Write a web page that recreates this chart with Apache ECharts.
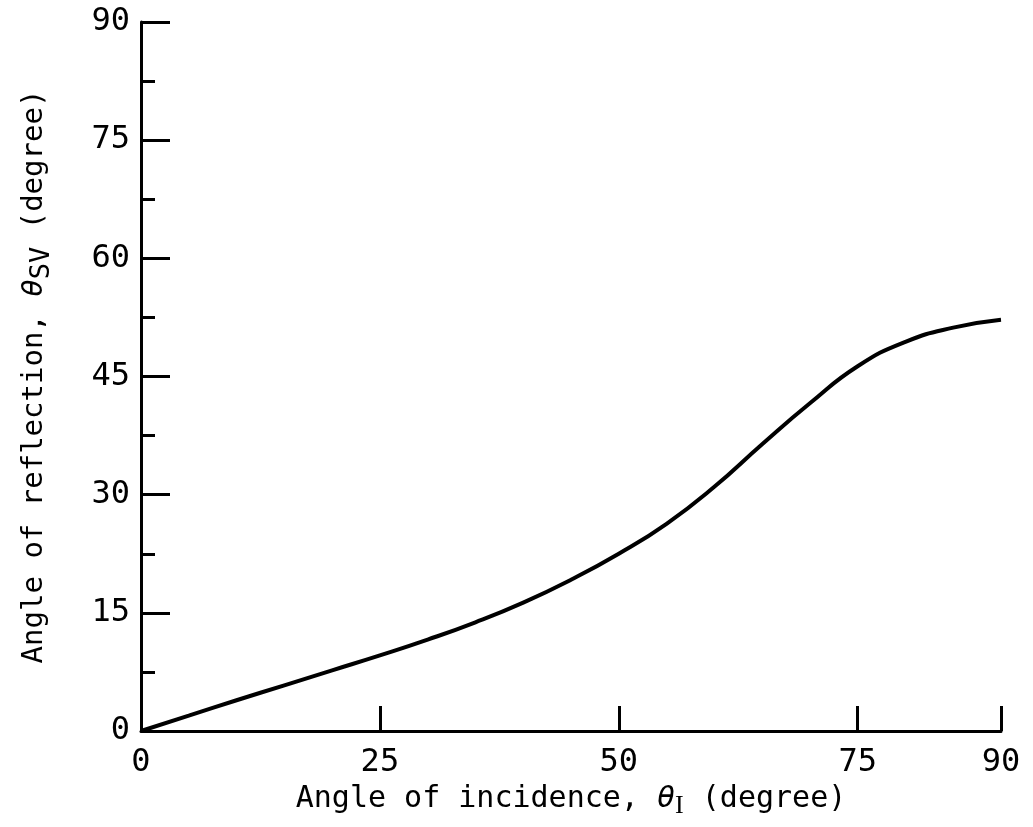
<!DOCTYPE html>
<html>
<head>
<meta charset="utf-8">
<script src="https://cdn.jsdelivr.net/npm/echarts@6/dist/echarts.min.js"></script>
<style>
html,body{margin:0;padding:0;background:#fff;}
#chart{width:1033px;height:827px;}
</style>
</head>
<body>
<div id="chart"></div>
<script>
const incidence = [0, 5, 10, 15, 20, 25, 30, 35, 40, 45, 50, 55, 60, 65, 70, 75, 80, 85, 90];
const reflection = [0, 1.95, 3.9, 5.8, 7.7, 9.6, 11.6, 13.8, 16.3, 19.2, 22.5, 26.3, 31.0, 36.4, 41.6, 46.3, 49.4, 51.2, 52.2];
const xTickValues = [0, 25, 50, 75, 90];

const FONT = 'DejaVu Sans Mono';
const chart = echarts.init(document.getElementById('chart'));
chart.setOption({
  backgroundColor: '#fff',
  animation: false,
  grid: { left: 141, right: 32, top: 22, bottom: 96, containLabel: false },
  xAxis: {
    type: 'value', min: 0, max: 90,
    name: 'Angle of incidence, {it|θ}{sub|I} (degree)',
    nameLocation: 'middle', nameGap: 41,
    nameTextStyle: {
      color: '#000', fontFamily: FONT, fontSize: 30,
      rich: {
        it: { fontFamily: FONT, fontSize: 30, fontStyle: 'italic', color: '#000' },
        sub: { fontFamily: 'Liberation Serif', fontSize: 26, color: '#000', verticalAlign: 'bottom', padding: [14, 0, 0, 0] }
      }
    },
    axisLine: { show: true, onZero: false, lineStyle: { color: '#000', width: 3 } },
    axisTick: { show: true, inside: true, length: 25, lineStyle: { color: '#000', width: 3 }, customValues: xTickValues },
    axisLabel: { color: '#000', fontFamily: FONT, fontSize: 32, margin: 16, customValues: xTickValues, showMaxLabel: true, showMinLabel: true },
    splitLine: { show: false }
  },
  yAxis: {
    type: 'value', min: 0, max: 90, interval: 15,
    name: 'Angle of reflection, {it|θ}{sub|SV} (degree)',
    nameLocation: 'middle', nameGap: 86,
    nameTextStyle: {
      color: '#000', fontFamily: FONT, fontSize: 29,
      rich: {
        it: { fontFamily: FONT, fontSize: 29, fontStyle: 'italic', color: '#000' },
        sub: { fontFamily: FONT, fontSize: 27, color: '#000', verticalAlign: 'bottom', padding: [14, 0, 0, 0] }
      }
    },
    axisLine: { show: true, onZero: false, lineStyle: { color: '#000', width: 3 } },
    axisTick: { show: true, inside: true, length: 29, lineStyle: { color: '#000', width: 3 } },
    minorTick: { show: true, splitNumber: 2, length: 14, lineStyle: { color: '#000', width: 3 } },
    axisLabel: { color: '#000', fontFamily: FONT, fontSize: 32, margin: 11 },
    splitLine: { show: false },
    minorSplitLine: { show: false }
  },
  series: [{
    type: 'line',
    data: incidence.map((x, i) => [x, reflection[i]]),
    smooth: true,
    showSymbol: false,
    lineStyle: { color: '#000', width: 4 },
    z: 1
  }]
});
</script>
</body>
</html>
